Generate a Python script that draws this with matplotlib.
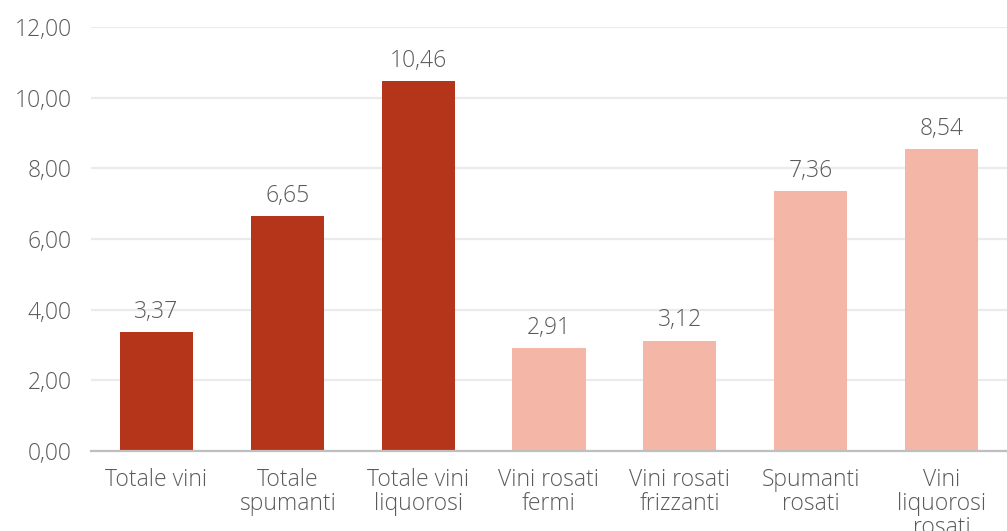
import matplotlib
matplotlib.use("Agg")
import matplotlib.pyplot as plt

categories = ["Totale vini", "Totale\nspumanti", "Totale vini\nliquorosi",
              "Vini rosati\nfermi", "Vini rosati\nfrizzanti", "Spumanti\nrosati",
              "Vini\nliquorosi\nrosati"]
values = [3.37, 6.65, 10.46, 2.91, 3.12, 7.36, 8.54]
groups = ["tot", "tot", "tot", "ros", "ros", "ros", "ros"]
yticks = [0, 2, 4, 6, 8, 10, 12]

colors = {"tot": "#B5351A", "ros": "#F4B6A6"}
txt = "#5A5A5A"
plt.rcParams['font.family'] = ['Open Sans', 'DejaVu Sans']
fw = 'light'
fs = 16.5

fig = plt.figure(figsize=(10.07, 5.31), dpi=100)
ax = fig.add_axes([91/1007, 80/531, 1 - 91/1007, 424/531])

x = list(range(len(categories)))
bars = ax.bar(x, values, width=0.56, color=[colors[g] for g in groups], zorder=3)
for xi, v in zip(x, values):
    ax.annotate(f"{v:.2f}".replace(".", ","), (xi, v), xytext=(0, 6),
                textcoords="offset points", ha="center", va="bottom",
                fontsize=fs, color=txt, fontweight=fw)

ax.set_xlim(-0.5, 6.5)
ax.set_ylim(0, 12)
ax.set_yticks(yticks)
ax.set_yticklabels([f"{t:.2f}".replace(".", ",") for t in yticks], fontsize=fs,
                   color=txt, fontweight=fw)
ax.set_xticks(x)
ax.set_xticklabels(categories, fontsize=fs, color=txt, linespacing=1.02,
                   fontweight=fw)
ax.tick_params(axis='both', length=0)
ax.tick_params(axis='y', pad=14)
ax.tick_params(axis='x', pad=12)
ax.grid(axis='y', color="#EBEBEB", linewidth=1.6, zorder=0)
ax.set_axisbelow(True)
for s in ["top", "right", "left"]:
    ax.spines[s].set_visible(False)
ax.spines["bottom"].set_color("#BFBFBF")
ax.spines["bottom"].set_linewidth(1.6)
ax.spines["bottom"].set_zorder(4)

fig.savefig("out.png", dpi=100)
